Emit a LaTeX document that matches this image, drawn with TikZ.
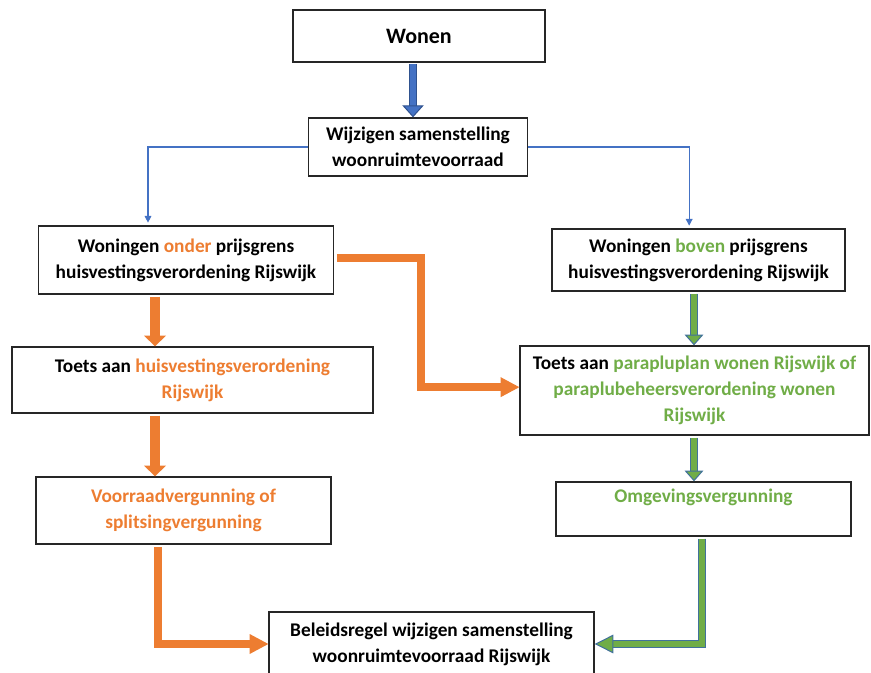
\documentclass[tikz,border=0pt]{standalone}
\usepackage{fontspec}
\setmainfont{Carlito}
\usepackage{xcolor}
\usetikzlibrary{arrows.meta, positioning}

\definecolor{wordblue}{HTML}{4472C4}
\definecolor{blueedge}{HTML}{2F528F}
\definecolor{wordorange}{HTML}{ED7D31}
\definecolor{wordgreen}{HTML}{70AD47}
\definecolor{greenedge}{HTML}{41719C}

\newcommand{\onderkleur}[1]{\textcolor{wordorange}{#1}}
\newcommand{\bovenkleur}[1]{\textcolor{wordgreen}{#1}}

\begin{document}
\begin{tikzpicture}[x=0.75pt, y=-0.75pt,
    box/.style={draw=black!85, line width=1pt, align=center, inner sep=0pt,
        font=\fontsize{14.5}{19.5}\selectfont\bfseries},
    thinlink/.style={draw=wordblue, line width=0.8pt, shorten >=2pt,
        -{Triangle[width=5pt,length=5pt]}},
    orangearrow/.style={draw=wordorange, line width=7.5pt, shorten <=1.5pt,
        -{Triangle[width=16.5pt,length=8pt,line width=0pt]}},
    orangeelbow/.style={draw=wordorange, line width=6pt, shorten <=2pt,
        -{Triangle[width=15pt,length=14pt,line width=0pt]}},
    greenarrow/.style={draw=wordgreen, line width=4.5pt, shorten <=1.5pt,
        -{Triangle[width=14pt,length=8pt,fill=wordgreen,color=greenedge,line width=0.75pt]},
        preaction={draw=greenedge, line width=6pt, -, shorten >=7pt}},
    greenelbow/.style={draw=wordgreen, line width=4.5pt, shorten <=1.5pt,
        -{Triangle[width=14pt,length=14pt,fill=wordgreen,color=greenedge,line width=0.75pt]},
        preaction={draw=greenedge, line width=6pt, -, shorten >=13pt}},
    bluearrow/.style={draw=wordblue, line width=4.5pt, shorten <=1pt,
        -{Triangle[width=16pt,length=9pt,fill=wordblue,color=blueedge,line width=0.75pt]},
        preaction={draw=blueedge, line width=6pt, -, shorten >=8pt}}
]
    \useasboundingbox (0,0) rectangle (871,673);
    \clip (0,0) rectangle (871,673);

    % Top
    \node[box, minimum width=189pt, minimum height=39pt,
        font=\fontsize{16.5}{19.5}\selectfont\bfseries] (wonen) at (419,36) {Wonen};
    \node[box, minimum width=164.25pt, minimum height=43.5pt] (wijzigen) at (418,147)
        {Wijzigen samenstelling\\woonruimtevoorraad};

    % Left column (onder prijsgrens)
    \node[box, minimum width=221.25pt, minimum height=51pt] (onder) at (186,260)
        {Woningen \onderkleur{onder} prijsgrens\\huisvestingsverordening Rijswijk};
    \node[box, minimum width=270.75pt, minimum height=49.5pt] (toetsH) at (192.5,380)
        {Toets aan \onderkleur{huisvestingsverordening}\\\onderkleur{Rijswijk}};
    \node[box, minimum width=221.25pt, minimum height=50.25pt] (voorraad) at (183.5,510.5)
        {\onderkleur{Voorraadvergunning of}\\\onderkleur{splitsingvergunning}};

    % Right column (boven prijsgrens)
    \node[box, minimum width=219.75pt, minimum height=46.5pt] (boven) at (698.5,260)
        {Woningen \bovenkleur{boven} prijsgrens\\huisvestingsverordening Rijswijk};
    \node[box, minimum width=261.75pt, minimum height=66.75pt] (toetsP) at (694.5,390.5)
        {Toets aan \bovenkleur{parapluplan wonen Rijswijk of}\\
         \bovenkleur{paraplubeheersverordening wonen}\\\bovenkleur{Rijswijk}};
    \node[box, minimum width=221.25pt, minimum height=40.5pt] (omgeving) at (703.5,509)
        {\bovenkleur{Omgevingsvergunning}\\[-6pt]\strut};

    % Bottom
    \node[box, minimum width=243.75pt, minimum height=48pt] (beleid) at (431.5,644)
        {Beleidsregel wijzigen samenstelling\\woonruimtevoorraad Rijswijk};

    % Arrow columns
    \coordinate (topcol) at (413,0);
    \coordinate (lcol) at (155,0);
    \coordinate (lcolb) at (158,0);
    \coordinate (mcol) at (421,0);
    \coordinate (rcol) at (694,0);
    \coordinate (rcolb) at (702,0);

    \draw[bluearrow] (wonen.south -| topcol) -- (wijzigen.north -| topcol);
    \draw[thinlink] (wijzigen.west) -| ([xshift=-28.5pt]onder.north);
    \draw[thinlink] (wijzigen.east) -| ([xshift=-7pt]boven.north);

    \draw[orangearrow] (onder.south -| lcol) -- (toetsH.north -| lcol);
    \draw[orangearrow] (toetsH.south -| lcol) -- (voorraad.north -| lcol);
    \draw[orangeelbow] (voorraad.south -| lcolb) |- (beleid.west);
    \draw[orangeelbow] ([yshift=1.5pt]onder.east) -- ([yshift=1.5pt]onder.east -| mcol)
        |- ([yshift=2.5pt]toetsP.west);

    \draw[greenarrow] (boven.south -| rcol) -- (toetsP.north -| rcol);
    \draw[greenarrow] (toetsP.south -| rcol) -- (omgeving.north -| rcol);
    \draw[greenelbow] (omgeving.south -| rcolb) |- (beleid.east);
\end{tikzpicture}
\end{document}
